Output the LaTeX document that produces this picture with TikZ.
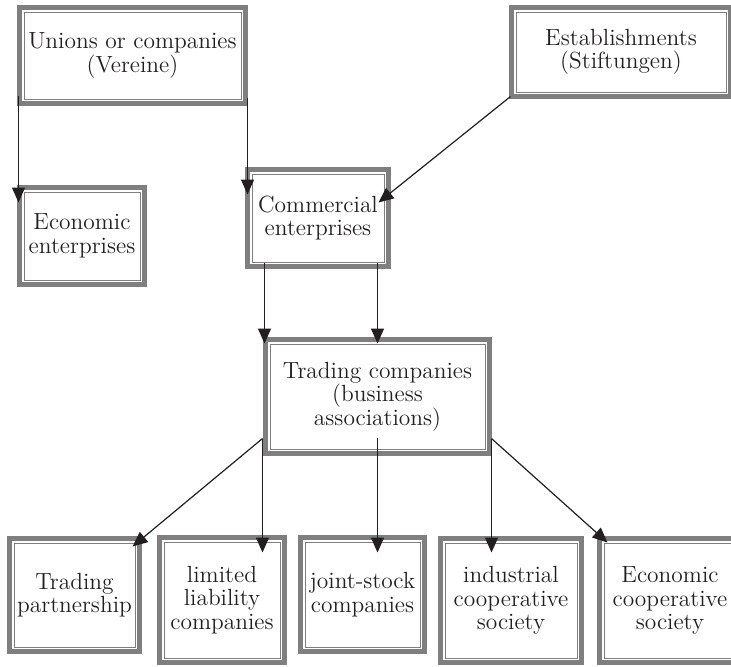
\documentclass[tikz,border=0pt]{standalone}
\usepackage{tikz}
\usetikzlibrary{arrows.meta, positioning, calc}
\definecolor{frame}{HTML}{7F7F7F}
\definecolor{ink}{HTML}{231F20}

\begin{document}
\begin{tikzpicture}[x=0.5pt, y=-0.5pt,
  box/.style={draw=frame, line width=0.5pt, fill=white, inner sep=0pt,
              align=center, text=ink,
              font=\fontsize{11.7}{11.8}\selectfont,
              preaction={draw=frame, line width=7pt},
              preaction={draw=white, line width=2pt}},
  dims/.style 2 args={minimum width=#1, minimum height=#2},
  arr/.style={-{Triangle[length=7.5pt, width=6.5pt]}, line width=0.6pt, ink}
]
\useasboundingbox (0,0) rectangle (731,666);

%% -- top level
\node[box, dims={108.5pt}{43.5pt}] (unions) at (132.5,55.5) {Unions or companies\\(Vereine)};
\node[box, dims={105pt}{40pt}]     (estab)  at (621,52)     {Establishments\\(Stiftungen)};

%% -- enterprises
\node[box, dims={58pt}{44pt}] (econ) at (82,236)  {Economic\\enterprises};
\node[box, dims={66pt}{44pt}] (comm) at (318,218) {Commercial\\enterprises};

%% -- trading companies
\node[box, dims={107.5pt}{52.5pt}] (trade) at (377.5,396.5) {Trading companies\\(business\\associations)};

%% -- legal forms
\node[box, dims={60.5pt}{52pt}]   (partner) at (74.5,595)  {Trading\\partnership};
\node[box, dims={58pt}{58pt}]     (limited) at (222,600)   {limited\\liability\\companies};
\node[box, dims={57.5pt}{52.5pt}] (jstock)  at (362.5,594.5) {joint-stock\\companies};
\node[box, dims={66pt}{57.5pt}]   (indus)   at (511,600.5) {industrial\\cooperative\\society};
\node[box, dims={66pt}{57.5pt}]   (ecoop)   at (670,600.5) {Economic\\cooperative\\society};

%% -- arrows to enterprises
\coordinate (ul) at ([xshift=-2.5pt,yshift=2pt]unions.south west);
\coordinate (ur) at ([xshift=3pt,yshift=1pt]unions.south east);
\draw[arr, shorten >=-5.5pt] (ul) -- (ul |- econ.north);
\draw[arr, shorten >=-10.5pt] (ur) -- (ur |- comm.north);
\draw[arr] ([xshift=-2.5pt,yshift=-2pt]estab.south west) -- ([xshift=-3pt,yshift=-14.5pt]comm.north east);

%% -- arrows to trading companies
\draw[arr] ([xshift=-2.5pt]trade.north west |- comm.south) -- ([xshift=-2.5pt]trade.north west);
\draw[arr] (trade.north |- comm.south) -- (trade.north);

%% -- arrows to legal forms
\coordinate (tl) at ([xshift=-3.5pt,yshift=5.5pt]trade.south west);
\coordinate (tm) at ([yshift=6pt]trade.south);
\coordinate (tr) at ([xshift=3pt,yshift=5.5pt]trade.south east);
\draw[arr] (tl) -- ([xshift=-1.5pt,yshift=-2pt]partner.north east);
\draw[arr, shorten >=-5.5pt] (tl) -- (tl |- limited.north);
\draw[arr, shorten >=-5.5pt] (tm) -- (tm |- jstock.north);
\draw[arr, shorten >=-5pt] (tr) -- (tr |- indus.north);
\draw[arr] (tr) -- ([xshift=2pt]ecoop.north west);

\end{tikzpicture}
\end{document}
